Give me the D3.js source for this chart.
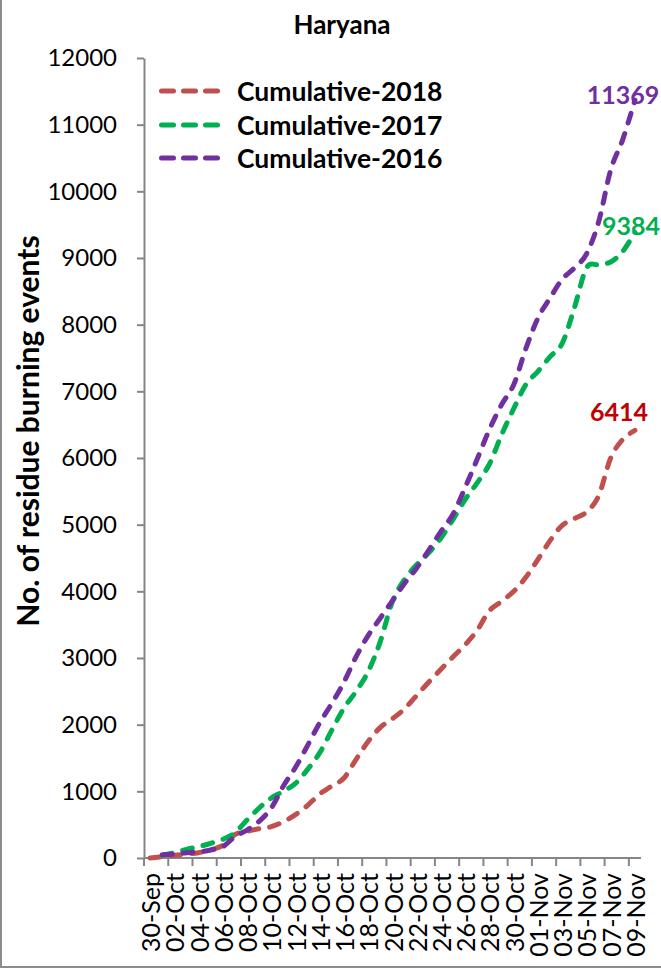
<!DOCTYPE html>
<html>
<head>
<meta charset="utf-8">
<script src="https://cdn.jsdelivr.net/npm/d3@7/dist/d3.min.js"></script>
<style>
  html, body { margin: 0; padding: 0; background: #fff; }
  svg { display: block; font-family: Lato, "Open Sans", sans-serif; }
</style>
</head>
<body>
<div id="chart"></div>
<script>
// categories: one per day, 30-Sep .. 09-Nov
const dates = [
  "30-Sep", "01-Oct", "02-Oct", "03-Oct", "04-Oct", "05-Oct", "06-Oct", "07-Oct", "08-Oct", "09-Oct",
  "10-Oct", "11-Oct", "12-Oct", "13-Oct", "14-Oct", "15-Oct", "16-Oct", "17-Oct", "18-Oct", "19-Oct",
  "20-Oct", "21-Oct", "22-Oct", "23-Oct", "24-Oct", "25-Oct", "26-Oct", "27-Oct", "28-Oct", "29-Oct",
  "30-Oct", "31-Oct", "01-Nov", "02-Nov", "03-Nov", "04-Nov", "05-Nov", "06-Nov", "07-Nov", "08-Nov",
  "09-Nov"
];

const cum2018 = [
  0, 20, 40, 60, 80, 120, 190, 350, 400, 440,
  470, 545, 650, 790, 960, 1080, 1200, 1480, 1750, 1960,
  2090, 2240, 2440, 2640, 2830, 3020, 3200, 3420, 3710, 3850,
  4000, 4210, 4480, 4760, 4990, 5090, 5190, 5430, 6000, 6280,
  6414
];

const cum2017 = [
  null, 40, 80, 130, 170, 220, 280, 380, 570, 750,
  900, 1000, 1120, 1330, 1580, 1920, 2250, 2500, 2800, 3250,
  3850, 4180, 4400, 4580, 4800, 5080, 5380, 5630, 5910, 6350,
  6740, 7100, 7300, 7520, 7720, 8250, 8850, 8900, 8940, 9100,
  9384
];

const cum2016 = [
  null, 50, 60, 80, 90, 120, 170, 320, 420, 550,
  750, 1080, 1360, 1690, 2030, 2320, 2640, 3020, 3340, 3600,
  3860, 4120, 4350, 4620, 4900, 5160, 5560, 5990, 6430, 6800,
  7100, 7640, 8100, 8400, 8680, 8850, 9060, 9540, 10320, 10780,
  11369
];

const seriesNames = ["Cumulative-2018", "Cumulative-2017", "Cumulative-2016"];
const yTicks = [0, 1000, 2000, 3000, 4000, 5000, 6000, 7000, 8000, 9000, 10000, 11000, 12000];

const lineColors = ["#C0504D", "#00B050", "#7030A0"];
const labelColors = ["#C00000", "#00B050", "#7030A0"];
const labelOffsets = [[-16, -19], [-4, -7], [-12, -6]];

const width = 661, height = 970;
const axisColor = "#868686";

const svg = d3.select("#chart").append("svg")
  .attr("width", width)
  .attr("height", height);

// outer chart frame
svg.append("rect")
  .attr("x", 1).attr("y", -4)
  .attr("width", width + 10).attr("height", 971)
  .attr("fill", "#fff")
  .attr("stroke", "#8c8c8c")
  .attr("stroke-width", 2);

const x = d3.scaleBand().domain(dates).range([144, 641]).paddingInner(0).paddingOuter(0);
const y = d3.scaleLinear().domain([0, 12000]).range([858, 58]);
const cx = d => x(d) + x.bandwidth() / 2;

// title
svg.append("text")
  .attr("x", 342).attr("y", 24)
  .attr("text-anchor", "middle")
  .attr("dominant-baseline", "central")
  .attr("font-size", 26)
  .attr("font-weight", "bold")
  .text("Haryana");

// y axis
const yAxis = svg.append("g")
  .attr("transform", "translate(144,0)")
  .call(d3.axisLeft(y).tickValues(yTicks).tickSize(7).tickSizeOuter(0).tickPadding(20).tickFormat(d3.format("d")));
yAxis.select(".domain").attr("stroke", axisColor).attr("stroke-width", 2);
yAxis.selectAll(".tick line").attr("stroke", axisColor).attr("stroke-width", 2);
yAxis.selectAll(".tick text")
  .attr("font-family", "Lato, sans-serif")
  .attr("font-size", 24)
  .attr("fill", "#000");

svg.append("text")
  .attr("transform", "translate(27,431) rotate(-90)")
  .attr("text-anchor", "middle")
  .attr("dominant-baseline", "central")
  .attr("font-size", 30)
  .attr("font-weight", "bold")
  .text("No. of residue burning  events");

// x axis: ticks between categories, every 2nd
const xAxis = svg.append("g");
xAxis.append("line")
  .attr("x1", x.range()[0]).attr("x2", x.range()[1])
  .attr("y1", y(0)).attr("y2", y(0))
  .attr("stroke", axisColor).attr("stroke-width", 2);

const shown = dates.filter((d, i) => i % 2 === 0);
xAxis.selectAll(".xtick")
  .data(shown)
  .enter().append("line")
  .attr("class", "xtick")
  .attr("x1", d => x(d)).attr("x2", d => x(d))
  .attr("y1", y(0)).attr("y2", y(0) + 8)
  .attr("stroke", axisColor).attr("stroke-width", 2);

xAxis.selectAll(".xlabel")
  .data(shown)
  .enter().append("text")
  .attr("class", "xlabel")
  .attr("transform", d => `translate(${cx(d)},${y(0) + 15}) rotate(-90)`)
  .attr("text-anchor", "end")
  .attr("dominant-baseline", "central")
  .attr("font-size", 25)
  .text(d => d);

// series lines
const allSeries = [cum2018, cum2017, cum2016];
const line = d3.line()
  .defined(d => d.v !== null)
  .x(d => cx(d.date))
  .y(d => y(d.v))
  .curve(d3.curveCardinal.tension(0));

allSeries.forEach((vals, k) => {
  const pts = vals.map((v, i) => ({ date: dates[i], v: v }));
  svg.append("path")
    .datum(pts)
    .attr("fill", "none")
    .attr("stroke", lineColors[k])
    .attr("stroke-width", 5)
    .attr("stroke-linecap", "round")
    .attr("stroke-dasharray", "10,11")
    .attr("d", line);
});

// end-value labels
allSeries.forEach((vals, k) => {
  const last = vals.length - 1;
  svg.append("text")
    .attr("x", cx(dates[last]) + labelOffsets[k][0])
    .attr("y", y(vals[last]) + labelOffsets[k][1])
    .attr("text-anchor", "middle")
    .attr("dominant-baseline", "central")
    .attr("font-size", 25)
    .attr("font-weight", "bold")
    .attr("fill", labelColors[k])
    .text(vals[last]);
});

// legend
const legendRows = [91, 125, 158];
const legend = svg.selectAll(".legend")
  .data(seriesNames)
  .enter().append("g")
  .attr("class", "legend")
  .attr("transform", (d, i) => `translate(0,${legendRows[i]})`);

legend.append("line")
  .attr("x1", 161.5).attr("x2", 219)
  .attr("y1", 0).attr("y2", 0)
  .attr("stroke", (d, i) => lineColors[i])
  .attr("stroke-width", 5)
  .attr("stroke-linecap", "round")
  .attr("stroke-dasharray", "12,10");

legend.append("text")
  .attr("x", 237)
  .attr("y", 0)
  .attr("dominant-baseline", "central")
  .attr("font-size", 26.5)
  .attr("font-weight", "bold")
  .text(d => d);
</script>
</body>
</html>
